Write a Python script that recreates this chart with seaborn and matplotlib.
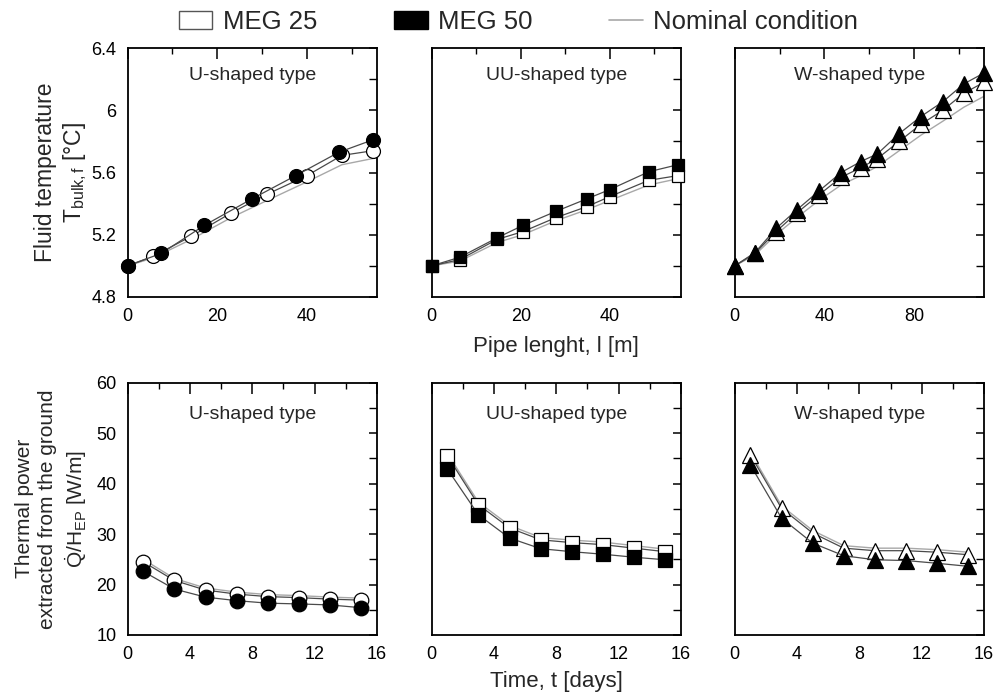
import numpy as np
import pandas as pd
import matplotlib
matplotlib.use("Agg")
import matplotlib.pyplot as plt
from matplotlib.ticker import MultipleLocator
from matplotlib.patches import Patch
from matplotlib.lines import Line2D
import seaborn as sns

# ---- data: fluid temperature along the pipe ----
u_len_50 = [0, 7.5, 17.1, 27.7, 37.5, 47.1, 54.7]
u_temp_50 = [5.00, 5.08, 5.26, 5.43, 5.58, 5.73, 5.81]
u_len_25 = [0, 5.6, 14.2, 23.1, 31.1, 40.0, 47.8, 54.7]
u_temp_25 = [5.00, 5.06, 5.19, 5.34, 5.46, 5.58, 5.71, 5.74]
u_temp_nom = [5.00, 5.05, 5.17, 5.31, 5.42, 5.54, 5.65, 5.69]

uu_len = [0, 6.3, 14.7, 20.5, 27.9, 34.8, 40.0, 48.8, 55.3]
uu_temp_50 = [5.00, 5.055, 5.18, 5.26, 5.35, 5.43, 5.49, 5.605, 5.65]
uu_temp_25 = [5.00, 5.04, 5.17, 5.22, 5.31, 5.38, 5.445, 5.55, 5.58]
uu_temp_nom = [5.00, 5.03, 5.15, 5.20, 5.29, 5.36, 5.42, 5.52, 5.56]

w_len = [0, 9.0, 18.4, 27.7, 37.5, 47.5, 56.2, 63.7, 73.4, 83.1, 92.9, 102.3, 111.3]
w_temp_50 = [5.00, 5.085, 5.24, 5.36, 5.48, 5.60, 5.67, 5.72, 5.85, 5.96, 6.055, 6.17, 6.24]
w_temp_25 = [5.00, 5.08, 5.22, 5.34, 5.455, 5.57, 5.63, 5.69, 5.80, 5.91, 6.00, 6.11, 6.18]
w_temp_nom = [5.00, 5.07, 5.20, 5.31, 5.42, 5.52, 5.58, 5.64, 5.74, 5.84, 5.93, 6.02, 6.09]

# ---- data: thermal power extracted from the ground over time ----
days = [1, 3, 5, 7, 9, 11, 13, 15]
u_pow_50 = [22.6, 19.1, 17.5, 16.8, 16.3, 16.15, 15.95, 15.4]
u_pow_25 = [24.5, 20.8, 18.9, 18.1, 17.6, 17.4, 17.1, 16.9]
u_pow_nom = [25.0, 21.2, 19.3, 18.5, 18.0, 17.8, 17.5, 17.3]

uu_pow_50 = [42.9, 33.8, 29.2, 27.1, 26.5, 26.0, 25.4, 24.9]
uu_pow_25 = [45.5, 35.8, 31.2, 28.85, 28.3, 27.9, 27.2, 26.5]
uu_pow_nom = [46.0, 36.3, 31.7, 29.3, 28.8, 28.4, 27.7, 27.0]

w_pow_50 = [43.7, 33.15, 28.2, 25.7, 24.9, 24.75, 24.2, 23.6]
w_pow_25 = [45.7, 35.1, 30.2, 27.2, 26.7, 26.7, 26.4, 25.9]
w_pow_nom = [46.2, 35.6, 30.7, 27.7, 27.2, 27.2, 26.9, 26.4]

panel_titles = ["U-shaped type", "UU-shaped type", "W-shaped type"]
legend_labels = ["MEG 25", "MEG 50", "Nominal condition"]

sns.set_style("white")
plt.rcParams["font.family"] = ["Liberation Sans", "DejaVu Sans"]
plt.rcParams["mathtext.fontset"] = "custom"
plt.rcParams["mathtext.rm"] = "Liberation Sans"
plt.rcParams["mathtext.it"] = "Liberation Sans"

fig = plt.figure(figsize=(9.97, 6.97), dpi=100)
lefts = [0.128, 0.433, 0.737]
width = 0.250
top_row = [fig.add_axes([l, 0.574, width, 0.357]) for l in lefts]
bot_row = [fig.add_axes([l, 0.089, width, 0.362]) for l in lefts]

LINE_C = "#4a4a4a"
NOM_C = "#a8a8a8"


def draw(ax, x25, y25, x50, y50, xnom, ynom, marker, ms):
    sns.lineplot(x=xnom, y=ynom, ax=ax, color=NOM_C, lw=1.0, sort=False,
                 estimator=None, zorder=2)
    sns.lineplot(x=x25, y=y25, ax=ax, color=LINE_C, lw=0.9, sort=False,
                 estimator=None, marker=marker, markersize=ms,
                 markerfacecolor="white", markeredgecolor="black",
                 markeredgewidth=0.9, zorder=3, clip_on=False)
    sns.lineplot(x=x50, y=y50, ax=ax, color=LINE_C, lw=0.9, sort=False,
                 estimator=None, marker=marker, markersize=ms,
                 markerfacecolor="black", markeredgecolor="black",
                 markeredgewidth=0.9, zorder=4, clip_on=False)


def style(ax, title, ty):
    for s in ax.spines.values():
        s.set_linewidth(1.3)
        s.set_color("black")
    ax.tick_params(which="both", direction="in", top=True, right=True,
                   labelsize=13, colors="black", pad=8)
    ax.tick_params(which="major", axis="x", length=8, width=1.1)
    ax.tick_params(which="minor", axis="x", length=4, width=1.0)
    ax.tick_params(which="major", axis="y", length=5.5, width=1.1)
    ax.tick_params(which="minor", axis="y", length=5.5, width=1.0)
    ax.set_xlabel("")
    ax.set_ylabel("")
    ax.text(0.5, ty, title, transform=ax.transAxes, ha="center", va="center",
            fontsize=14)


# top row: temperature profiles
top_sets = [
    (u_len_25, u_temp_25, u_len_50, u_temp_50, u_len_25, u_temp_nom, "o", 10, 55.6, 20),
    (uu_len, uu_temp_25, uu_len, uu_temp_50, uu_len, uu_temp_nom, "s", 9, 56.0, 20),
    (w_len, w_temp_25, w_len, w_temp_50, w_len, w_temp_nom, "^", 11, 111.3, 40),
]
for ax, (x25, y25, x50, y50, xn, yn, mk, ms, xmax, step), title in zip(top_row, top_sets, panel_titles):
    draw(ax, x25, y25, x50, y50, xn, yn, mk, ms)
    ax.set_xlim(0, xmax)
    ax.set_ylim(4.8, 6.4)
    ax.xaxis.set_major_locator(MultipleLocator(step))
    ax.xaxis.set_minor_locator(MultipleLocator(step / 2))
    ax.yaxis.set_major_locator(MultipleLocator(0.4))
    ax.yaxis.set_minor_locator(MultipleLocator(0.2))
    style(ax, title, 0.89)

top_row[0].set_yticks([4.8, 5.2, 5.6, 6.0, 6.4])
top_row[0].set_yticklabels(["4.8", "5.2", "5.6", "6", "6.4"])
for ax in top_row[1:]:
    ax.tick_params(labelleft=False)

# bottom row: thermal power
bot_sets = [
    (u_pow_25, u_pow_50, u_pow_nom, "o", 10.5),
    (uu_pow_25, uu_pow_50, uu_pow_nom, "s", 9.5),
    (w_pow_25, w_pow_50, w_pow_nom, "^", 11),
]
for ax, (y25, y50, yn, mk, ms), title in zip(bot_row, bot_sets, panel_titles):
    draw(ax, days, y25, days, y50, days, yn, mk, ms)
    ax.set_xlim(0, 16)
    ax.set_ylim(10, 60)
    ax.xaxis.set_major_locator(MultipleLocator(4))
    ax.xaxis.set_minor_locator(MultipleLocator(2))
    ax.yaxis.set_major_locator(MultipleLocator(10))
    ax.yaxis.set_minor_locator(MultipleLocator(5))
    style(ax, title, 0.875)
for ax in bot_row[1:]:
    ax.tick_params(labelleft=False)

# axis titles
top_row[1].set_xlabel("Pipe lenght, l [m]", fontsize=16, labelpad=8)
bot_row[1].set_xlabel("Time, t [days]", fontsize=16, labelpad=6)
top_row[0].set_ylabel("Fluid temperature\n$\\mathregular{T_{bulk,f}}$ [°C]",
                      fontsize=16.5, labelpad=2, linespacing=1.2)
bot_row[0].set_ylabel("Thermal power\nextracted from the ground\n"
                      "$\\mathregular{\\dot{Q}/H_{EP}}$ [W/m]",
                      fontsize=15, labelpad=5, linespacing=1.3)

# shared legend
handles = [
    Patch(facecolor="white", edgecolor="#555555", linewidth=1.0),
    Patch(facecolor="black", edgecolor="black"),
    Line2D([], [], color=NOM_C, lw=1.2),
]
fig.legend(handles, legend_labels, loc="center", bbox_to_anchor=(0.52, 0.968),
           ncol=3, frameon=False, fontsize=18.5, handlelength=1.3,
           handleheight=0.7, handletextpad=0.4, columnspacing=3.0)

fig.savefig("out.png", dpi=100, facecolor="white")
